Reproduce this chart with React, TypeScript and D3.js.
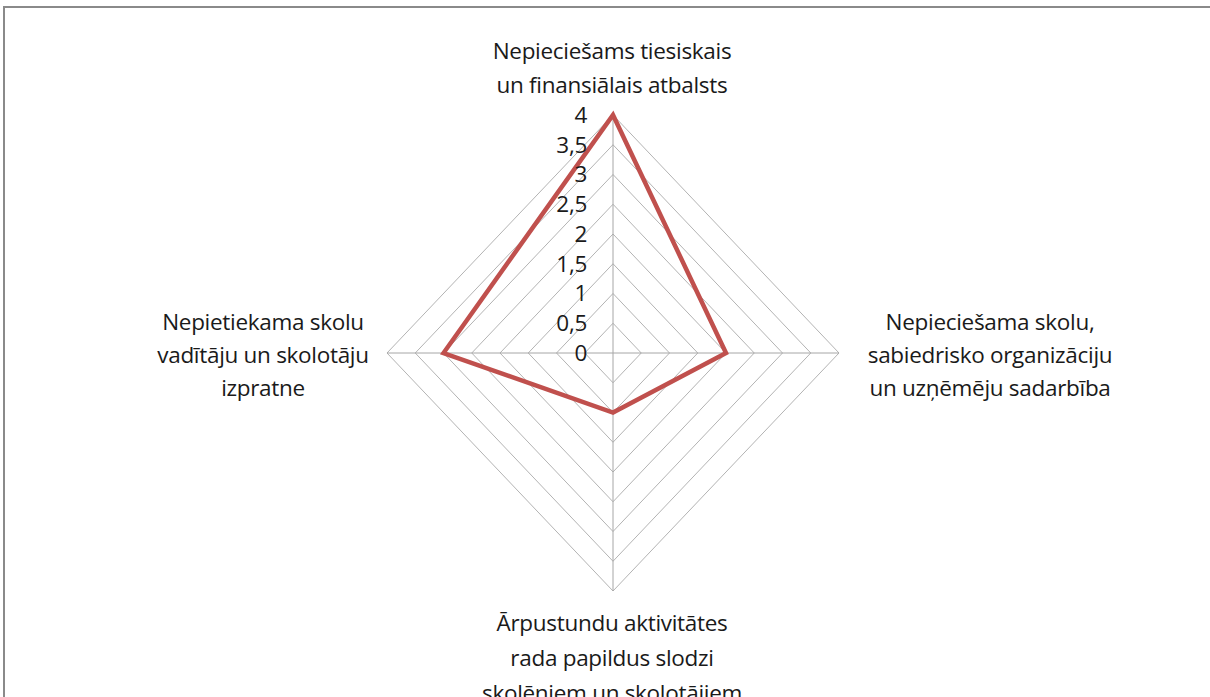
import React from "react";
import * as d3 from "d3";

const categories = [
  ["Nepieciešams tiesiskais", "un finansiālais atbalsts"],
  ["Nepieciešama skolu,", "sabiedrisko organizāciju", "un uzņēmēju sadarbība"],
  ["Ārpustundu aktivitātes", "rada papildus slodzi", "skolēniem un skolotājiem"],
  ["Nepietiekama skolu", "vadītāju un skolotāju", "izpratne"],
];
const values = [4, 2, 1, 3];
const ticks = [0, 0.5, 1, 1.5, 2, 2.5, 3, 3.5, 4];
const tickLabels = ["0", "0,5", "1", "1,5", "2", "2,5", "3", "3,5", "4"];

export default function App() {
  const W = 1210, H = 697;
  const cx = 613, cy = 353;
  const rx = d3.scaleLinear().domain([0, 4]).range([0, 226]);
  const ry = d3.scaleLinear().domain([0, 4]).range([0, 238]);
  const angles = categories.map((_, i) => (i * Math.PI * 2) / categories.length);
  const pt = (v: number, a: number): [number, number] => [
    cx + rx(v) * Math.sin(a),
    cy - ry(v) * Math.cos(a),
  ];
  const line = d3.line<[number, number]>().curve(d3.curveLinearClosed);
  const font = "'Open Sans', sans-serif";
  const fs = 22.5;
  const labelPos = [
    { x: 612, y: 51, gap: 34 },
    { x: 990, y: 322, gap: 33 },
    { x: 612, y: 623, gap: 35 },
    { x: 263, y: 322, gap: 33 },
  ];
  return (
    <svg width={W} height={H} style={{ position: "absolute", left: 0, top: 0 }}>
      <rect x={0} y={0} width={W} height={H} fill="#fff" />
      <rect x={4} y={7} width={W + 10} height={H + 10} fill="none" stroke="#8a8a8a" strokeWidth={2} />
      {ticks.slice(1).map((t) => (
        <path
          key={t}
          d={line(angles.map((a) => pt(t, a))) || ""}
          fill="none"
          stroke="#b3b3b3"
          strokeWidth={1}
        />
      ))}
      {angles.map((a, i) => {
        const [x, y] = pt(4, a);
        return <line key={i} x1={cx} y1={cy} x2={x} y2={y} stroke="#a6a6a6" strokeWidth={1} />;
      })}
      <path
        d={line(values.map((v, i) => pt(v, angles[i]))) || ""}
        fill="none"
        stroke="#c0504d"
        strokeWidth={4.5}
        strokeLinejoin="miter"
      />
      {ticks.map((t, i) => (
        <text
          key={t}
          x={587}
          y={cy - ry(t)}
          dy="0.35em"
          textAnchor="end"
          fontFamily={font}
          fontSize={fs}
          fill="#1a1a1a"
          style={{ letterSpacing: "-0.3px" }}
        >
          {tickLabels[i]}
        </text>
      ))}
      {categories.map((lines, i) => (
        <text
          key={i}
          x={labelPos[i].x}
          y={labelPos[i].y}
          textAnchor="middle"
          fontFamily={font}
          fontSize={fs}
          fill="#1a1a1a"
          style={{ letterSpacing: "-0.3px" }}
        >
          {lines.map((l, j) => (
            <tspan key={j} x={labelPos[i].x} dy={j === 0 ? "0.35em" : labelPos[i].gap}>
              {l}
            </tspan>
          ))}
        </text>
      ))}
    </svg>
  );
}
